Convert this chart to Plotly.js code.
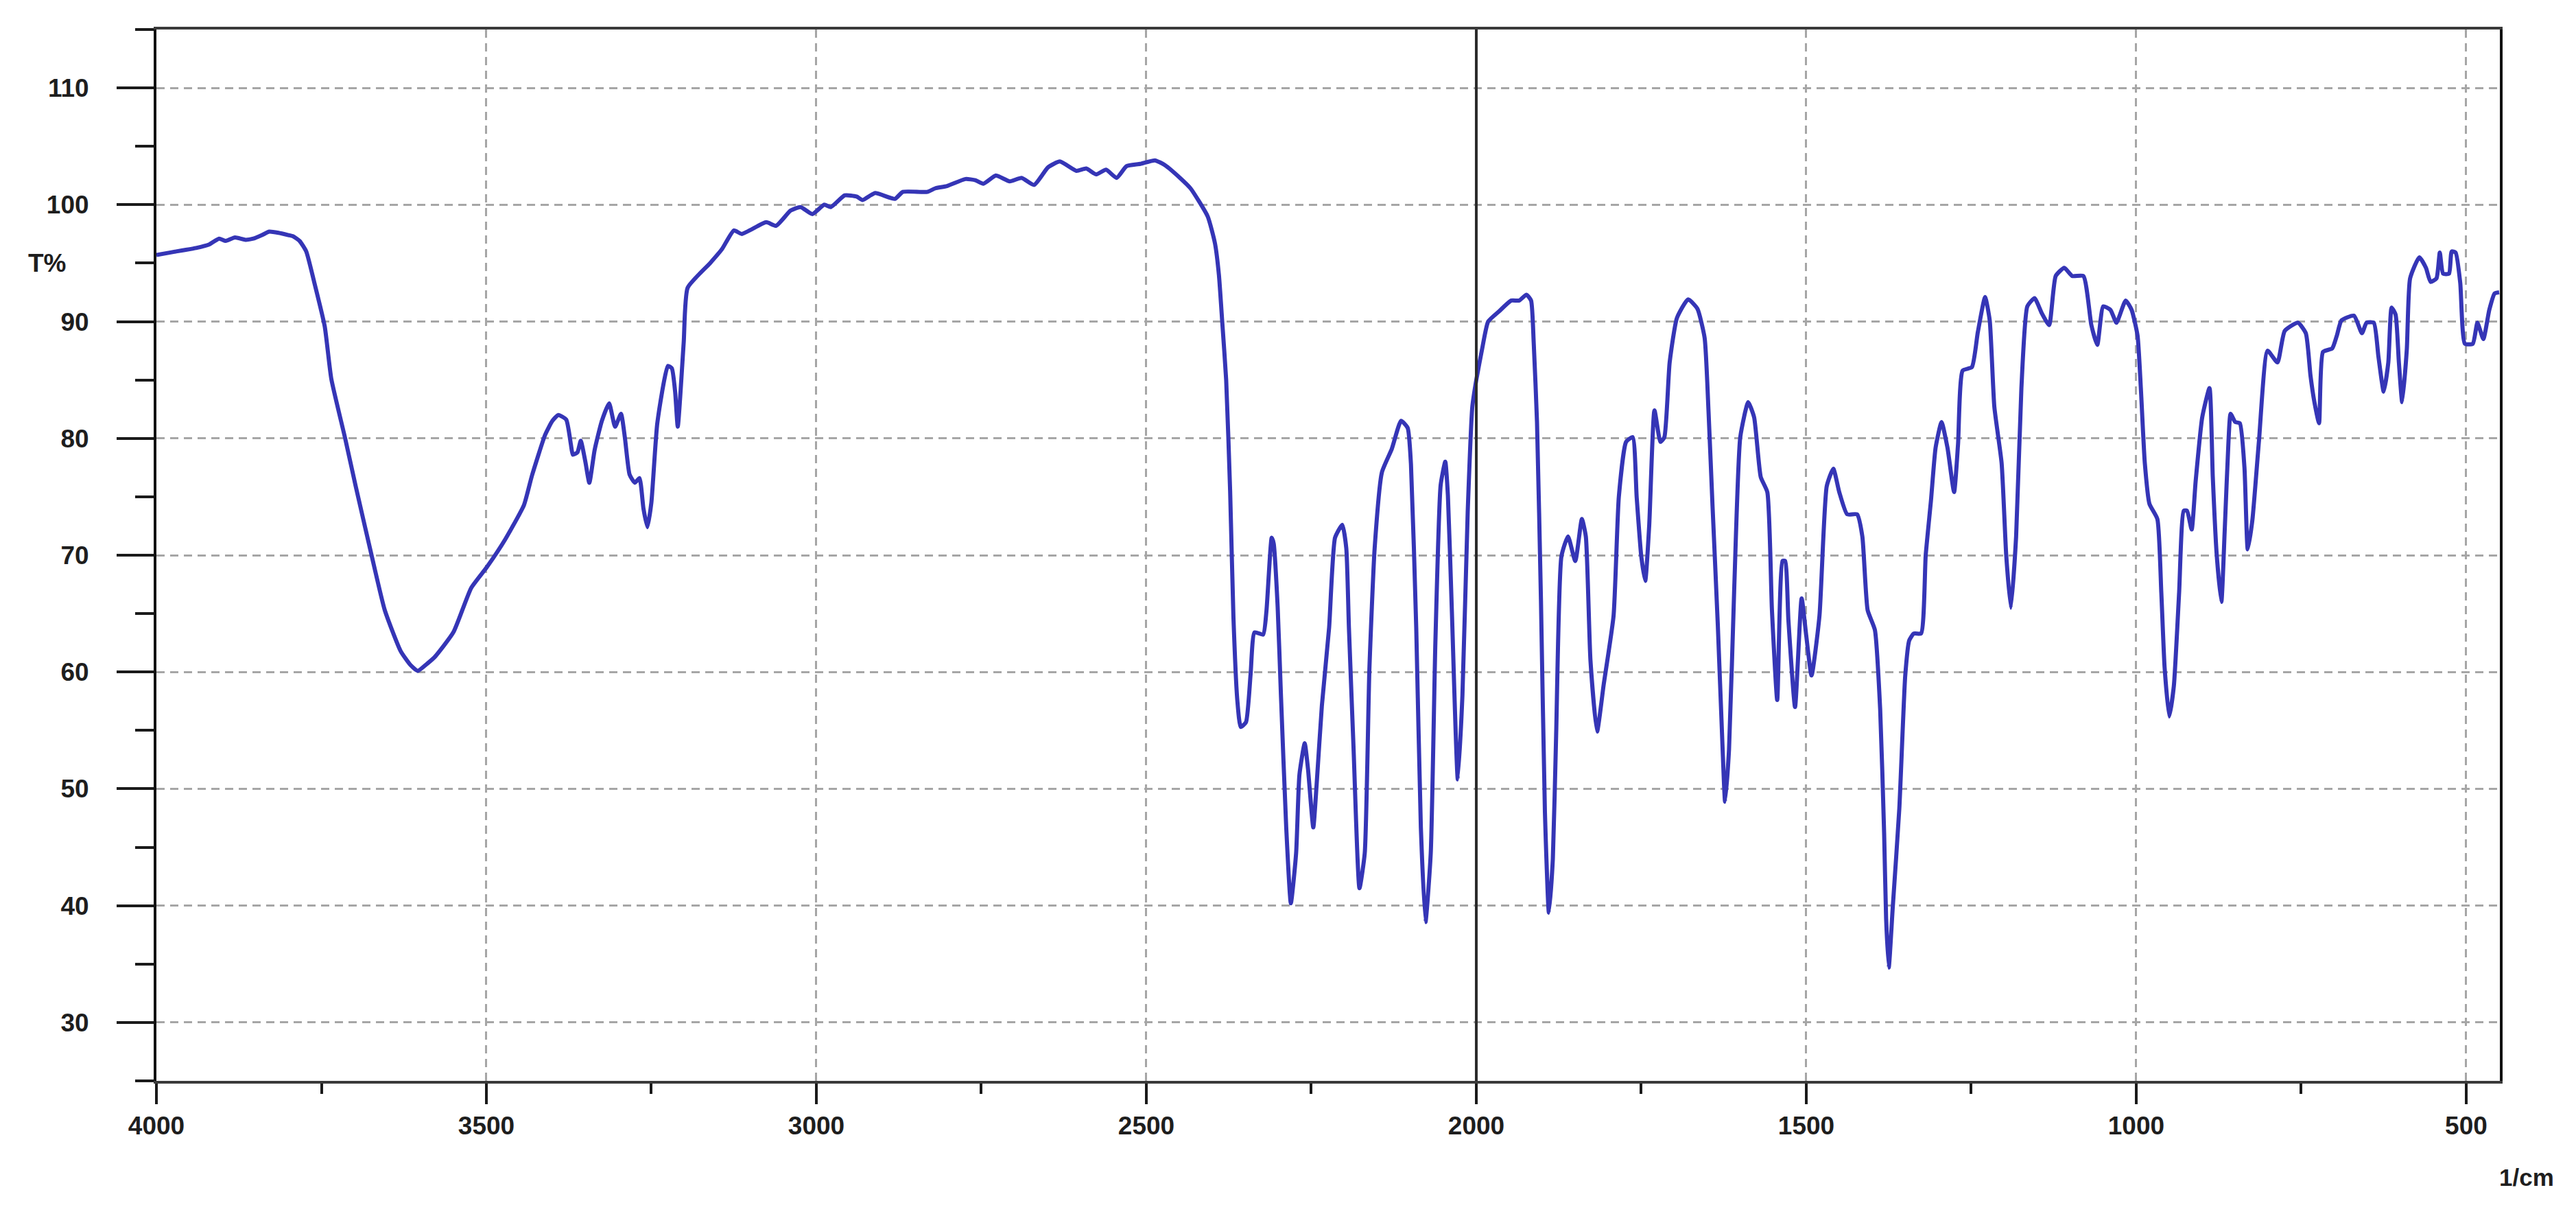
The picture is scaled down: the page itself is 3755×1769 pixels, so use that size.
<!DOCTYPE html>
<html>
<head>
<meta charset="utf-8">
<script src="https://cdn.plot.ly/plotly-3.0.1.min.js"></script>
<style>
html,body{margin:0;padding:0;background:#fff;}
#chart{width:3755px;height:1769px;}
</style>
</head>
<body>
<div id="chart"></div>
<script>
// Wavenumber (1/cm) and transmittance (T%)
const wavenumber = [
4000,3980,3960,3940,3920,3905,3895,3881,3865,3853,3840,3829,3815,3800,3793,3783,3773,3761,3745,3735,
3714,3698,3674,3654,3630,3615,3604,3590,3578,3550,3523,3499,3471,3443,3431,3411,3400,3391,3379,3372,
3369,3362,3357,3350,3344,3336,3325,3314,3305,3296,3290,3283,3275,3268,3262,3256,3250,3241,3225,3219,
3214,3210,3201,3195,3161,3143,3125,3113,3076,3061,3039,3024,3006,2988,2978,2957,2939,2930,2911,2881,
2869,2832,2820,2802,2774,2759,2747,2728,2707,2689,2670,2649,2631,2606,2591,2576,2561,2545,2530,2509,
2487,2472,2449,2433,2407,2396,2390,2385,2379,2373,2368,2362,2357,2349,2342,2336,2323,2318,2310,2307,
2301,2296,2288,2281,2273,2268,2260,2255,2247,2242,2234,2223,2214,2203,2197,2193,2186,2177,2169,2162,
2154,2143,2128,2114,2104,2099,2091,2084,2077,2069,2062,2054,2047,2043,2037,2028,2021,2013,2006,2000,
1991,1982,1965,1947,1935,1924,1917,1913,1908,1902,1896,1890,1884,1879,1871,1861,1850,1840,1834,1827,
1817,1807,1792,1784,1773,1763,1757,1750,1744,1738,1730,1721,1715,1707,1696,1679,1665,1654,1648,1642,
1634,1627,1623,1617,1609,1600,1588,1579,1569,1559,1552,1544,1536,1532,1527,1517,1507,1500,1492,1480,
1469,1459,1450,1438,1423,1415,1407,1396,1388,1382,1379,1375,1369,1359,1350,1344,1337,1326,1319,1311,
1304,1295,1286,1276,1270,1263,1249,1240,1229,1222,1215,1204,1197,1190,1182,1174,1165,1154,1143,1132,
1122,1109,1097,1080,1068,1059,1050,1039,1030,1016,1007,998,993,987,980,968,962,957,950,943,
935,928,923,916,910,900,889,884,878,871,866,860,857,850,843,836,831,824,814,801,
786,775,755,743,736,730,723,717,703,696,689,670,658,651,640,633,625,618,613,607,
602,597,590,585,571,561,554,545,540,535,526,522,516,509,502,490,483,474,465,457,450
];
const transmittance = [
95.7,95.9,96.1,96.3,96.6,97.1,96.9,97.2,97.0,97.1,97.4,97.7,97.6,97.4,97.3,96.9,96.0,93.4,89.6,85.1,
80.0,75.9,70.0,65.3,61.8,60.6,60.1,60.7,61.3,63.4,67.2,69.0,71.4,74.3,76.8,80.3,81.5,82.0,81.6,79.5,
78.6,78.8,79.8,78.0,76.2,79.0,81.5,83.0,81.0,82.1,80.0,76.9,76.2,76.6,74.0,72.4,74.5,81.3,86.2,86.0,
84.0,81.0,88.2,92.9,95.0,96.2,97.8,97.5,98.5,98.2,99.5,99.8,99.2,100.0,99.8,100.8,100.7,100.4,101.0,100.5,
101.1,101.1,101.4,101.6,102.2,102.1,101.8,102.5,102.0,102.3,101.7,103.2,103.7,102.9,103.1,102.6,103.0,102.3,103.3,103.5,
103.8,103.4,102.3,101.4,99.0,96.7,94.0,90.0,85.0,75.5,64.7,57.5,55.3,55.7,59.8,63.4,63.2,65.2,71.5,71.0,
65.6,58.0,46.7,40.2,44.5,51.2,53.9,51.7,46.7,50.3,57.1,63.8,71.5,72.6,70.6,63.8,53.5,41.5,44.5,60.2,
70.6,77.1,79.1,81.5,80.9,77.8,63.8,46.7,38.6,44.5,62.5,76.0,78.0,75.1,65.2,50.8,58.0,73.7,82.7,85.0,
87.7,90.0,90.9,91.8,91.8,92.3,91.8,88.2,81.4,66.1,48.0,39.4,44.0,54.6,69.9,71.6,69.5,73.1,71.6,61.0,
54.9,58.9,64.8,75.0,79.7,80.1,75.0,69.9,67.8,72.5,82.4,79.7,80.1,86.5,90.3,91.9,91.1,88.6,82.2,74.2,
64.0,53.8,48.9,53.4,67.4,80.1,83.1,81.8,76.7,75.4,65.3,57.6,69.5,69.5,64.4,57.0,66.3,63.1,59.7,64.8,
75.9,77.4,75.4,73.5,73.5,71.6,65.3,63.6,56.8,46.2,38.9,34.7,39.8,48.3,59.7,62.7,63.3,63.3,70.0,74.7,
79.2,81.4,79.2,75.4,79.5,85.8,86.1,89.1,92.1,90.1,82.7,77.9,70.0,65.5,71.6,84.3,91.3,92.0,90.7,89.7,
93.9,94.6,93.9,93.9,89.7,88.0,91.3,91.0,89.9,91.8,91.0,88.8,84.3,77.9,74.4,73.1,66.8,60.4,56.2,58.8,
66.8,73.8,73.8,72.2,76.3,81.8,84.3,76.7,70.0,66.0,72.0,80.0,82.1,81.4,81.3,77.5,70.5,73.0,79.8,87.5,
86.5,89.2,89.9,89.0,85.4,83.1,81.3,87.4,87.7,88.8,90.1,90.5,89.0,89.9,89.9,87.0,84.0,86.5,91.2,90.6,
86.5,83.1,87.6,93.7,95.5,94.6,93.4,93.7,95.9,94.1,94.1,96.0,95.9,93.3,88.1,88.1,89.9,88.5,91.0,92.4,92.5
];
const xTickValues = [4000,3500,3000,2500,2000,1500,1000,500];
const xTickLabels = ["4000","3500","3000","2500","2000","1500","1000","500"];
const yTickValues = [30,40,50,60,70,80,90,100,110];
const yTickLabels = ["30","40","50","60","70","80","90","100","110"];
const yAxisLabel = "T%";
const xAxisLabel = "1/cm";
const markerLineAt = 2000;

const FONT = "Liberation Sans, Arial, Helvetica, sans-serif";
const TXT = "#1e1e1e";

const trace = {
  x: wavenumber,
  y: transmittance,
  type: "scatter",
  mode: "lines",
  line: {color: "#3535b6", width: 6, shape: "spline", smoothing: 0.5},
  hoverinfo: "skip",
  showlegend: false
};

const layout = {
  width: 3755,
  height: 1769,
  paper_bgcolor: "#ffffff",
  plot_bgcolor: "#ffffff",
  margin: {l: 228, r: 111, t: 43, b: 194, pad: 0},
  font: {family: FONT, size: 37, color: TXT},
  showlegend: false,
  xaxis: {
    range: [4000, 449],
    autorange: false,
    tickvals: xTickValues,
    ticktext: xTickLabels,
    ticks: "outside",
    ticklen: 30,
    tickwidth: 4,
    tickcolor: "#1a1a1a",
    ticklabelstandoff: 0,
    tickfont: {family: FONT, size: 37, color: TXT, weight: "bold"},
    showline: true,
    linecolor: "#3a3a3a",
    linewidth: 4,
    mirror: true,
    showgrid: true,
    gridcolor: "#a6a6a6",
    gridwidth: 3,
    griddash: "12px,8px",
    zeroline: false,
    automargin: false,
    minor: {dtick: 250, tick0: 0, ticks: "outside", ticklen: 15, tickwidth: 4, tickcolor: "#1a1a1a", showgrid: false}
  },
  yaxis: {
    range: [25, 115],
    autorange: false,
    tickvals: yTickValues,
    ticktext: yTickLabels,
    ticks: "outside",
    ticklen: 54,
    tickwidth: 4,
    tickcolor: "#1a1a1a",
    ticklabelstandoff: 33,
    tickfont: {family: FONT, size: 37, color: TXT, weight: "bold"},
    showline: true,
    linecolor: "#111111",
    linewidth: 4,
    mirror: true,
    showgrid: true,
    gridcolor: "#a6a6a6",
    gridwidth: 3,
    griddash: "12px,8px",
    zeroline: false,
    automargin: false,
    minor: {dtick: 5, tick0: 0, ticks: "outside", ticklen: 27, tickwidth: 4, tickcolor: "#1a1a1a", showgrid: false}
  },
  shapes: [
    {type: "line", xref: "x", yref: "paper", x0: markerLineAt, x1: markerLineAt, y0: 0, y1: 1,
     line: {color: "#2a2a2a", width: 4}, layer: "above"}
  ],
  annotations: [
    {text: yAxisLabel, xref: "paper", yref: "y", x: -0.0465, y: 95, showarrow: false,
     xanchor: "center", yanchor: "middle", font: {family: FONT, size: 37, color: TXT, weight: "bold"}},
    {text: xAxisLabel, xref: "paper", yref: "paper", x: 1.0114, y: -0.092, showarrow: false,
     xanchor: "center", yanchor: "middle", font: {family: FONT, size: 35, color: TXT, weight: "bold"}}
  ]
};

Plotly.newPlot("chart", [trace], layout, {staticPlot: true, displayModeBar: false});
</script>
</body>
</html>
